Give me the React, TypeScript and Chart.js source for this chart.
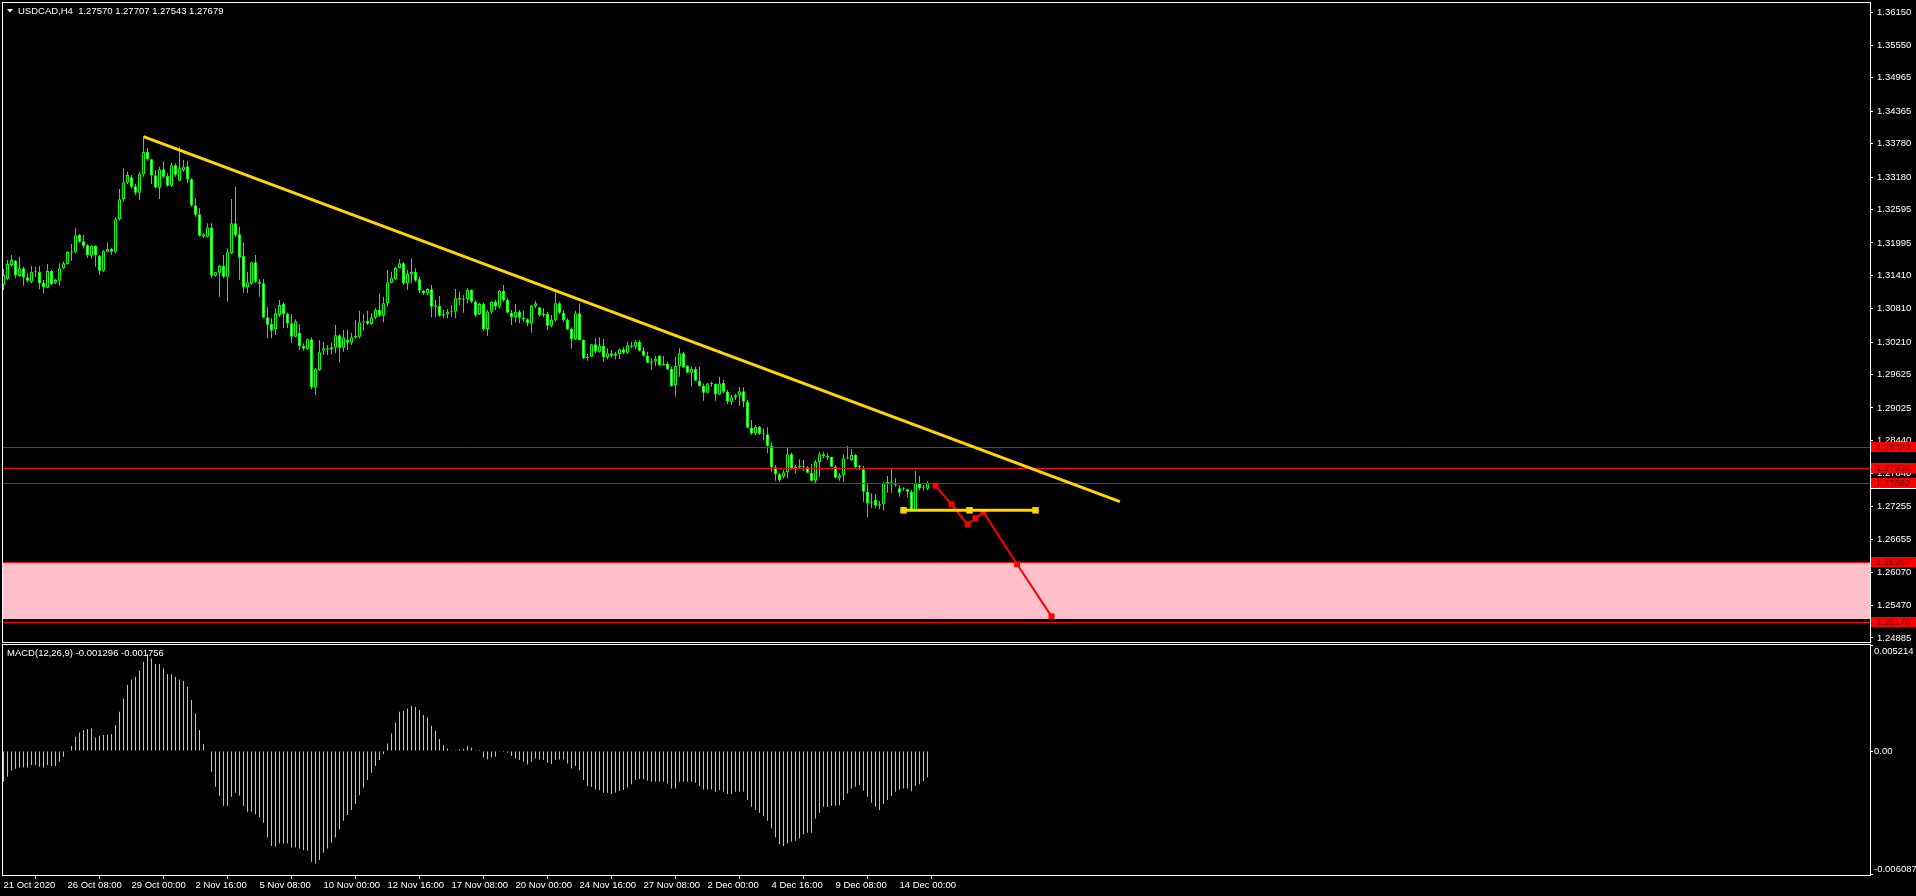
import React, { useEffect, useRef } from 'react';
import { Chart, registerables } from 'chart.js';

Chart.register(...registerables);

// ---------------- data ----------------
const SYMBOL_HEADER = 'USDCAD,H4  1.27570 1.27707 1.27543 1.27679';
const MACD_HEADER = 'MACD(12,26,9) -0.001296 -0.001756';

const OPEN = [
  1.31237,1.31351,1.31597,1.31675,1.31399,1.31537,1.31375,1.31297,1.31477,1.31471,
  1.31273,1.31189,1.31489,1.31279,1.31315,1.31537,1.31615,1.31831,1.31825,1.32137,
  1.32023,1.31951,1.31765,1.31939,1.31759,1.31495,1.31837,1.31885,1.31837,1.32419,
  1.32785,1.33079,1.33175,1.33013,1.32899,1.33229,1.33631,1.33499,1.33211,1.32989,
  1.33319,1.33199,1.33025,1.33391,1.33115,1.33307,1.33373,1.33139,1.32671,1.32509,
  1.32107,1.32107,1.32275,1.31405,1.31459,1.31579,1.31387,1.31807,1.32347,1.32149,
  1.31759,1.31195,1.31267,1.31645,1.31297,1.31267,1.30655,1.30535,1.30439,1.30697,
  1.30895,1.30715,1.30547,1.30307,1.30379,1.30139,1.30091,1.30259,1.29395,1.29707,
  1.30055,1.30097,1.30079,1.30109,1.30331,1.30109,1.30247,1.30199,1.30295,1.30307,
  1.30565,1.30589,1.30535,1.30649,1.30787,1.30685,1.30907,1.31279,1.31339,1.31543,
  1.31627,1.31267,1.31429,1.31477,1.31339,1.31135,1.31087,1.31159,1.30847,1.30859,
  1.30685,1.30709,1.30757,1.30757,1.30997,1.30985,1.30985,1.31147,1.30937,1.30715,
  1.30895,1.30445,1.30757,1.30937,1.30847,1.31129,1.30967,1.30739,1.30655,1.30757,
  1.30649,1.30619,1.30547,1.30859,1.30835,1.30697,1.30715,1.30505,1.30607,1.30907,
  1.30739,1.30607,1.30445,1.30265,1.30727,1.30247,1.29917,1.29947,1.30169,1.30037,
  1.30139,1.29935,1.30007,1.29965,1.29995,1.30079,1.30019,1.30151,1.30127,1.30211,
  1.30055,1.29965,1.29839,1.29863,1.29959,1.29797,1.29821,1.29725,1.29437,1.29779,
  1.30007,1.29779,1.29659,1.29725,1.29515,1.29419,1.29299,1.29467,1.29455,1.29269,
  1.29480,1.29318,1.29138,1.29216,1.29252,1.29324,1.29138,1.28670,1.28568,1.28682,
  1.28562,1.28550,1.28346,1.27956,1.27830,1.27788,1.27866,1.28190,1.27938,1.27962,
  1.27968,1.27956,1.27860,1.27716,1.28052,1.28190,1.28160,1.28142,1.27968,1.27770,
  1.27812,1.28118,1.28088,1.28178,1.27956,1.27920,1.27518,1.27308,1.27368,1.27266,
  1.27290,1.27668,1.27692,1.27680,1.27578,1.27560,1.27560,1.27518,1.27188,1.27668,
  1.27578,1.27570,
];
const HIGH = [
  1.31525,1.31687,1.31777,1.31687,1.31747,1.31567,1.31447,1.31579,1.31567,1.31579,
  1.31327,1.31615,1.31507,1.31351,1.31627,1.31663,1.31843,1.31975,1.32257,1.32155,
  1.32137,1.31975,1.31951,1.31951,1.31777,1.31867,1.32005,1.31903,1.32455,1.32965,
  1.33337,1.33277,1.33217,1.33055,1.33277,1.33907,1.33703,1.33511,1.33307,1.33367,
  1.33463,1.33247,1.33439,1.33427,1.33727,1.33487,1.33463,1.33157,1.32797,1.32617,
  1.32167,1.32347,1.32347,1.31477,1.31597,1.31777,1.31897,1.32785,1.33007,1.32287,
  1.31999,1.31477,1.31657,1.31777,1.31339,1.31345,1.30835,1.30637,1.30817,1.30967,
  1.30925,1.30739,1.30715,1.30619,1.30535,1.30187,1.30277,1.30297,1.29737,1.30247,
  1.30217,1.30157,1.30199,1.30517,1.30349,1.30427,1.30427,1.30379,1.30607,1.30775,
  1.30715,1.30775,1.30727,1.30817,1.31087,1.31027,1.31507,1.31477,1.31567,1.31699,
  1.31657,1.31507,1.31717,1.31537,1.31387,1.31147,1.31183,1.31237,1.30967,1.31039,
  1.30787,1.30811,1.30877,1.31165,1.31117,1.31057,1.31177,1.31159,1.30967,1.30919,
  1.30919,1.30787,1.30949,1.30967,1.31147,1.31237,1.30997,1.30787,1.30895,1.30787,
  1.30775,1.30637,1.30877,1.30955,1.30847,1.30817,1.30757,1.30697,1.31099,1.30937,
  1.30787,1.30637,1.30475,1.30775,1.30907,1.30259,1.29995,1.30175,1.30277,1.30295,
  1.30265,1.30097,1.30067,1.30037,1.30097,1.30115,1.30217,1.30217,1.30247,1.30247,
  1.30115,1.30037,1.29917,1.29959,1.29977,1.29959,1.29851,1.29767,1.29947,1.30097,
  1.30037,1.29797,1.29767,1.29767,1.29767,1.29467,1.29479,1.29497,1.29467,1.29587,
  1.29528,1.29348,1.29258,1.29276,1.29408,1.29396,1.29168,1.28808,1.28718,1.28700,
  1.28658,1.28676,1.28406,1.27998,1.27860,1.27908,1.28310,1.28220,1.27998,1.28100,
  1.28088,1.27980,1.28016,1.28088,1.28238,1.28238,1.28208,1.28148,1.27998,1.27848,
  1.28190,1.28340,1.28280,1.28196,1.27998,1.27980,1.27668,1.27488,1.27476,1.27356,
  1.27698,1.27800,1.27920,1.27758,1.27638,1.27596,1.27572,1.27548,1.27890,1.27806,
  1.27638,1.27707,
];
const LOW = [
  1.31147,1.31327,1.31567,1.31357,1.31387,1.31225,1.31285,1.31267,1.31387,1.31159,
  1.31087,1.31177,1.31231,1.31255,1.31225,1.31519,1.31603,1.31675,1.31807,1.31999,
  1.31897,1.31723,1.31711,1.31567,1.31417,1.31477,1.31825,1.31783,1.31807,1.32395,
  1.32737,1.33055,1.32977,1.32857,1.32767,1.33187,1.33475,1.33055,1.32977,1.32785,
  1.33157,1.33007,1.33007,1.33187,1.33105,1.33277,1.33067,1.32647,1.32467,1.32107,
  1.32089,1.32095,1.31357,1.31387,1.31027,1.31357,1.30937,1.31795,1.32107,1.31327,
  1.31099,1.31087,1.31237,1.31267,1.31027,1.30637,1.30277,1.30277,1.30337,1.30667,
  1.30457,1.30457,1.30187,1.30295,1.30067,1.30055,1.30067,1.29359,1.29257,1.29695,
  1.29977,1.29977,1.29989,1.30007,1.29839,1.30037,1.30067,1.30157,1.30271,1.30277,
  1.30415,1.30517,1.30523,1.30619,1.30667,1.30567,1.30847,1.31267,1.31327,1.31537,
  1.31237,1.31147,1.31267,1.31297,1.31087,1.31057,1.31057,1.30655,1.30655,1.30667,
  1.30637,1.30637,1.30667,1.30637,1.30877,1.30739,1.30907,1.30907,1.30667,1.30697,
  1.30415,1.30325,1.30715,1.30787,1.30817,1.30937,1.30727,1.30517,1.30559,1.30547,
  1.30577,1.30499,1.30379,1.30817,1.30667,1.30655,1.30427,1.30475,1.30577,1.30715,
  1.30577,1.30427,1.30091,1.30247,1.30235,1.29899,1.29875,1.29935,1.30007,1.30019,
  1.29857,1.29899,1.29935,1.29899,1.29905,1.29995,1.29995,1.30097,1.30079,1.30037,
  1.29947,1.29827,1.29707,1.29779,1.29779,1.29791,1.29707,1.29407,1.29227,1.29587,
  1.29737,1.29647,1.29407,1.29509,1.29407,1.29155,1.29287,1.29407,1.29155,1.29257,
  1.29288,1.29096,1.29078,1.29168,1.29060,1.29036,1.28658,1.28538,1.28538,1.28538,
  1.28448,1.28208,1.27878,1.27716,1.27698,1.27758,1.27758,1.27908,1.27848,1.27938,
  1.27896,1.27848,1.27698,1.27668,1.27788,1.28118,1.28088,1.27956,1.27758,1.27716,
  1.27698,1.28100,1.28076,1.27944,1.27908,1.27338,1.27056,1.27218,1.27218,1.27200,
  1.27176,1.27500,1.27500,1.27608,1.27428,1.27536,1.27416,1.27176,1.27176,1.27548,
  1.27536,1.27543,
];
const CLOSE = [
  1.31417,1.31615,1.31687,1.31411,1.31537,1.31375,1.31315,1.31477,1.31495,1.31267,
  1.31195,1.31489,1.31249,1.31327,1.31537,1.31627,1.31831,1.31819,1.32131,1.32017,
  1.31939,1.31771,1.31939,1.31771,1.31495,1.31843,1.31885,1.31837,1.32419,1.32779,
  1.33085,1.33217,1.33007,1.32899,1.33235,1.33631,1.33499,1.33211,1.32995,1.33319,
  1.33187,1.33025,1.33391,1.33223,1.33337,1.33367,1.33139,1.32671,1.32503,1.32125,
  1.32149,1.32275,1.31405,1.31465,1.31579,1.31387,1.31825,1.32347,1.32137,1.31735,
  1.31195,1.31285,1.31645,1.31297,1.31261,1.30655,1.30523,1.30415,1.30727,1.30877,
  1.30709,1.30547,1.30307,1.30583,1.30139,1.30091,1.30259,1.29395,1.29719,1.30025,
  1.30097,1.30073,1.30115,1.30331,1.30109,1.30295,1.30199,1.30295,1.30319,1.30565,
  1.30577,1.30541,1.30655,1.30787,1.30685,1.30907,1.31285,1.31357,1.31543,1.31627,
  1.31267,1.31435,1.31477,1.31315,1.31135,1.31087,1.31165,1.30847,1.30871,1.30685,
  1.30709,1.30757,1.30769,1.30997,1.30985,1.30973,1.31147,1.30937,1.30697,1.30895,
  1.30445,1.30757,1.30937,1.30847,1.31129,1.30967,1.30739,1.30655,1.30757,1.30649,
  1.30619,1.30547,1.30859,1.30907,1.30697,1.30715,1.30505,1.30607,1.30907,1.30739,
  1.30607,1.30445,1.30265,1.30727,1.30247,1.29917,1.29947,1.30169,1.30037,1.30139,
  1.29935,1.30007,1.29965,1.29995,1.30079,1.30019,1.30151,1.30127,1.30211,1.30055,
  1.29965,1.29839,1.29863,1.29911,1.29797,1.29821,1.29725,1.29419,1.29779,1.30007,
  1.29755,1.29659,1.29725,1.29515,1.29419,1.29299,1.29467,1.29455,1.29269,1.29467,
  1.29318,1.29138,1.29216,1.29252,1.29324,1.29138,1.28670,1.28568,1.28682,1.28562,
  1.28550,1.28346,1.27956,1.27830,1.27728,1.27866,1.28190,1.27938,1.27962,1.27968,
  1.27956,1.27860,1.27716,1.28052,1.28190,1.28160,1.28136,1.27968,1.27770,1.27812,
  1.28118,1.28136,1.28178,1.27956,1.27974,1.27518,1.27308,1.27326,1.27266,1.27290,
  1.27668,1.27692,1.27680,1.27644,1.27500,1.27572,1.27518,1.27188,1.27668,1.27578,
  1.27596,1.27679,
];
const MACD = [
  -0.001507,-0.001261,-0.000966,-0.000868,-0.000803,-0.000803,-0.000803,-0.000688,-0.000688,-0.000770,
  -0.000803,-0.000688,-0.000737,-0.000737,-0.000524,-0.000278,-0.000033,0.000246,0.000704,0.000917,
  0.001032,0.001081,0.001114,0.000672,0.000753,0.000786,0.000819,0.000835,0.001278,0.001933,
  0.002588,0.003243,0.003522,0.003653,0.003948,0.004390,0.004767,0.004554,0.004275,0.004275,
  0.004062,0.003784,0.003784,0.003653,0.003522,0.003440,0.003161,0.002506,0.001851,0.001032,
  0.000344,-0.000016,-0.001016,-0.001753,-0.002195,-0.002686,-0.002686,-0.002244,-0.002048,-0.002195,
  -0.002686,-0.002981,-0.002981,-0.003096,-0.003260,-0.003522,-0.004242,-0.004668,-0.004701,-0.004537,
  -0.004537,-0.004537,-0.004734,-0.004734,-0.004783,-0.004865,-0.004898,-0.005438,-0.005520,-0.005356,
  -0.004996,-0.004783,-0.004505,-0.004242,-0.003833,-0.003423,-0.003145,-0.002899,-0.002604,-0.002162,
  -0.001785,-0.001425,-0.001065,-0.000737,-0.000442,-0.000147,0.000377,0.000868,0.001409,0.001933,
  0.001966,0.002097,0.002211,0.002179,0.002015,0.001769,0.001654,0.001245,0.000999,0.000590,
  0.000295,0.000131,0.000016,0.000016,0.000082,0.000098,0.000246,0.000180,0.000016,0.000005,
  -0.000311,-0.000410,-0.000311,-0.000278,-0.000033,-0.000049,-0.000082,-0.000246,-0.000360,-0.000442,
  -0.000524,-0.000655,-0.000524,-0.000360,-0.000410,-0.000442,-0.000573,-0.000639,-0.000442,-0.000410,
  -0.000410,-0.000606,-0.000852,-0.000737,-0.000934,-0.001425,-0.001720,-0.001753,-0.001884,-0.001916,
  -0.002048,-0.002048,-0.002113,-0.002031,-0.001949,-0.001916,-0.001785,-0.001622,-0.001425,-0.001376,
  -0.001376,-0.001458,-0.001507,-0.001507,-0.001507,-0.001507,-0.001589,-0.001835,-0.001835,-0.001507,
  -0.001507,-0.001507,-0.001507,-0.001556,-0.001720,-0.001884,-0.001884,-0.001884,-0.001998,-0.001916,
  -0.001998,-0.002113,-0.002113,-0.001998,-0.001998,-0.001998,-0.002408,-0.002735,-0.002899,-0.003030,
  -0.003194,-0.003423,-0.003800,-0.004242,-0.004570,-0.004668,-0.004537,-0.004455,-0.004406,-0.004292,
  -0.004079,-0.004013,-0.004013,-0.003309,-0.003030,-0.002735,-0.002735,-0.002686,-0.002686,-0.002654,
  -0.002408,-0.002080,-0.001835,-0.001753,-0.001671,-0.001949,-0.002244,-0.002539,-0.002735,-0.002899,
  -0.002604,-0.002408,-0.002211,-0.001998,-0.001884,-0.001835,-0.001835,-0.001966,-0.001720,-0.001622,
  -0.001474,-0.001296,
];

const PRICE_TICKS = [
  1.36150, 1.35550, 1.34965, 1.34365, 1.33780, 1.33180, 1.32595, 1.31995, 1.31410, 1.30810,
  1.30210, 1.29625, 1.29025, 1.28440, 1.27840, 1.27255, 1.26655, 1.26070, 1.25470, 1.24885,
];
const TIME_TICK_BARS = [0, 16, 32, 48, 64, 80, 96, 112, 128, 144, 160, 176, 192, 208, 224];
const TIME_TICK_LABELS = [
  '21 Oct 2020', '26 Oct 08:00', '29 Oct 00:00', '2 Nov 16:00', '5 Nov 08:00', '10 Nov 00:00',
  '12 Nov 16:00', '17 Nov 08:00', '20 Nov 00:00', '24 Nov 16:00', '27 Nov 08:00', '2 Dec 00:00',
  '4 Dec 16:00', '9 Dec 08:00', '14 Dec 00:00',
];

const LEVELS = [1.28323, 1.27936, 1.27682, 1.26257, 1.25178];
const BID_LEVEL = 1.27682;
const ZONE = [1.26257, 1.25225];

const TREND_X = [35, 279.1];
const TREND_Y = [1.33906, 1.27338];
const FLAT_X = [225, 241.5, 258];
const FLAT_Y = [1.27183, 1.27183, 1.27183];
const PATH_X = [233, 237, 241, 243, 245, 253.4, 262];
const PATH_Y = [1.27626, 1.27291, 1.26931, 1.27039, 1.27147, 1.26211, 1.25275];

const X_MIN = -0.125;
const X_MAX = 466.625;
const Y_MIN = 1.24813;
const Y_MAX = 1.36312;
const MACD_MIN = -0.006087;
const MACD_MAX = 0.005214;

// ---------------- styles ----------------
const W = 1916;
const MAIN_H = 643;
const SUB_H = 253;
const AXIS_W = 46;
const FONT_FAMILY = '"Liberation Sans", Arial, sans-serif';
const FONT_SIZE = 9.5;
const FONT = `${FONT_SIZE}px ${FONT_FAMILY}`;
const LIME = '#00ff00';
const GOLD = '#ffd700';
const RED = '#ff0000';
const PINK = '#ffc0cb';
const SILVER = '#c0c0c0';
const WHITE = '#ffffff';

const blackBackground = {
  id: 'blackBackground',
  beforeDraw(chart: any) {
    const { ctx, width, height } = chart;
    ctx.save();
    ctx.fillStyle = '#000';
    ctx.fillRect(0, 0, width, height);
    ctx.restore();
  },
};

function frame(chart: any) {
  const { ctx, chartArea: a } = chart;
  ctx.save();
  ctx.strokeStyle = WHITE;
  ctx.lineWidth = 1;
  ctx.strokeRect(a.left - 0.5, a.top - 0.5, a.right - a.left + 1, a.bottom - a.top + 1);
  ctx.restore();
}

const mainPlugin = {
  id: 'mt4main',
  beforeDatasetsDraw(chart: any) {
    const { ctx, chartArea: a, scales } = chart;
    const y = scales.y;
    const top = Math.round(y.getPixelForValue(ZONE[0]));
    const bot = Math.round(y.getPixelForValue(ZONE[1]));
    ctx.save();
    ctx.fillStyle = PINK;
    ctx.fillRect(a.left, top, a.right - a.left, bot - top);
    ctx.restore();
  },
  afterDatasetDraw(chart: any, args: any) {
    if (chart.data.datasets[args.index].label !== 'bodies') return;
    const { ctx, chartArea: a, scales } = chart;
    ctx.save();
    ctx.strokeStyle = RED;
    ctx.lineWidth = 1;
    for (const v of LEVELS) {
      const py = Math.round(scales.y.getPixelForValue(v)) + 0.5;
      ctx.beginPath();
      ctx.moveTo(a.left, py);
      ctx.lineTo(a.right, py);
      ctx.stroke();
    }
    ctx.restore();
  },
  afterDraw(chart: any) {
    const { ctx, chartArea: a, scales, width } = chart;
    frame(chart);
    ctx.save();
    // header
    ctx.fillStyle = WHITE;
    ctx.beginPath();
    ctx.moveTo(7, 9);
    ctx.lineTo(13, 9);
    ctx.lineTo(10, 12.5);
    ctx.closePath();
    ctx.fill();
    ctx.font = FONT;
    ctx.textBaseline = 'middle';
    ctx.textAlign = 'left';
    ctx.fillText(SYMBOL_HEADER, 18, 11);
    // price labels of the levels
    for (const v of LEVELS) {
      const py = Math.round(scales.y.getPixelForValue(v));
      ctx.fillStyle = RED;
      ctx.fillRect(a.right + 1, py - 5, width - a.right - 1, 10);
      if (v === BID_LEVEL) {
        ctx.fillStyle = WHITE;
        ctx.fillRect(a.right + 1, py + 5, width - a.right - 1, 1);
      }
      ctx.fillStyle = '#5a0000';
      ctx.fillText(v.toFixed(5), a.right + 6, py);
    }
    ctx.restore();
  },
};

const subPlugin = {
  id: 'mt4sub',
  afterDraw(chart: any) {
    const { ctx, chartArea: a } = chart;
    frame(chart);
    ctx.save();
    ctx.font = FONT;
    ctx.textBaseline = 'middle';
    ctx.textAlign = 'left';
    ctx.fillStyle = WHITE;
    ctx.fillText(MACD_HEADER, 7, a.top + 8);
    ctx.fillText(MACD_MAX.toFixed(6), a.right + 4, a.top + 6);
    ctx.fillText(MACD_MIN.toFixed(6), a.right + 4, a.bottom - 6);
    ctx.fillRect(a.right, a.top, 3, 1);
    ctx.fillRect(a.right, a.bottom - 1, 3, 1);
    ctx.restore();
  },
};

function fitVertical(s: any) {
  s.width = AXIS_W;
  s.paddingTop = 0;
  s.paddingBottom = 0;
  s.paddingLeft = 0;
  s.paddingRight = 0;
}

function mainConfig(): any {
  return {
    type: 'bar',
    data: {
      datasets: [
        {
          type: 'line',
          label: 'trend',
          data: TREND_X.map((x, i) => ({ x, y: TREND_Y[i] })),
          borderColor: GOLD,
          borderWidth: 3,
          pointRadius: 0,
          tension: 0,
          order: 0,
        },
        {
          type: 'line',
          label: 'flat',
          data: FLAT_X.map((x, i) => ({ x, y: FLAT_Y[i] })),
          borderColor: GOLD,
          borderWidth: 3,
          pointStyle: 'rect',
          pointRadius: 4.6,
          pointBackgroundColor: GOLD,
          pointBorderWidth: 0,
          tension: 0,
          order: 0,
        },
        {
          type: 'line',
          label: 'path',
          data: PATH_X.map((x, i) => ({ x, y: PATH_Y[i] })),
          borderColor: RED,
          borderWidth: 2,
          pointStyle: 'rect',
          pointRadius: 4.2,
          pointBackgroundColor: RED,
          pointBorderWidth: 0,
          tension: 0,
          order: 0,
        },
        {
          type: 'bar',
          label: 'bodies',
          data: OPEN.map((o, i) => ({ x: i, y: [o, CLOSE[i]] })),
          backgroundColor: (c: any) =>
            CLOSE[c.dataIndex] >= OPEN[c.dataIndex] ? '#000000' : '#ffffff',
          borderColor: LIME,
          borderWidth: 1,
          borderSkipped: false,
          barThickness: 3,
          minBarLength: 1,
          grouped: false,
          inflateAmount: 0,
          order: 2,
        },
        {
          type: 'bar',
          label: 'wicks',
          data: LOW.map((l, i) => ({ x: i, y: [l, HIGH[i]] })),
          backgroundColor: LIME,
          borderWidth: 0,
          barThickness: 1,
          minBarLength: 1,
          grouped: false,
          inflateAmount: 0,
          order: 3,
        },
      ],
    },
    options: {
      animation: false,
      responsive: false,
      maintainAspectRatio: false,
      devicePixelRatio: 1,
      events: [],
      layout: { autoPadding: false, padding: { left: 3, top: 3, right: 0, bottom: 1 } },
      plugins: { legend: { display: false }, tooltip: { enabled: false } },
      scales: {
        x: { type: 'linear', min: X_MIN, max: X_MAX, display: false, offset: false },
        y: {
          type: 'linear',
          position: 'right',
          min: Y_MIN,
          max: Y_MAX,
          afterFit: fitVertical,
          afterBuildTicks: (s: any) => { s.ticks = PRICE_TICKS.map((v) => ({ value: v })); },
          ticks: {
            color: WHITE,
            font: { family: FONT_FAMILY, size: FONT_SIZE },
            padding: 4,
            crossAlign: 'near',
            autoSkip: false,
            callback: (v: any) => Number(v).toFixed(5),
          },
          grid: { drawOnChartArea: false, drawTicks: true, tickLength: 3, color: WHITE },
          border: { display: true, color: WHITE },
        },
      },
    },
    plugins: [blackBackground, mainPlugin],
  };
}

function subConfig(): any {
  return {
    type: 'bar',
    data: {
      datasets: [
        {
          label: 'macd',
          data: MACD.map((v, i) => ({ x: i, y: v })),
          backgroundColor: SILVER,
          borderWidth: 0,
          barThickness: 1,
          grouped: false,
          inflateAmount: 0,
        },
      ],
    },
    options: {
      animation: false,
      responsive: false,
      maintainAspectRatio: false,
      devicePixelRatio: 1,
      events: [],
      layout: { autoPadding: false, padding: { left: 3, top: 2, right: 0, bottom: 0 } },
      plugins: { legend: { display: false }, tooltip: { enabled: false } },
      scales: {
        x: {
          type: 'linear',
          min: X_MIN,
          max: X_MAX,
          offset: false,
          afterBuildTicks: (s: any) => { s.ticks = TIME_TICK_BARS.map((v) => ({ value: v })); },
          afterFit: (s: any) => {
            s.height = 21;
            s.paddingLeft = 0;
            s.paddingRight = 0;
            s.paddingTop = 0;
            s.paddingBottom = 0;
          },
          ticks: {
            color: WHITE,
            font: { family: FONT_FAMILY, size: FONT_SIZE },
            padding: 1,
            align: 'start',
            maxRotation: 0,
            minRotation: 0,
            autoSkip: false,
            callback: (v: any) => {
              const k = TIME_TICK_BARS.indexOf(Number(v));
              return k >= 0 ? TIME_TICK_LABELS[k] : '';
            },
          },
          grid: { drawOnChartArea: false, drawTicks: true, tickLength: 4, color: WHITE },
          border: { display: true, color: WHITE },
        },
        y: {
          type: 'linear',
          position: 'right',
          min: MACD_MIN,
          max: MACD_MAX,
          afterFit: fitVertical,
          afterBuildTicks: (s: any) => { s.ticks = [{ value: 0 }]; },
          ticks: {
            color: WHITE,
            font: { family: FONT_FAMILY, size: FONT_SIZE },
            padding: 1,
            crossAlign: 'near',
            autoSkip: false,
            callback: () => '0.00',
          },
          grid: { drawOnChartArea: false, drawTicks: true, tickLength: 3, color: WHITE },
          border: { display: true, color: WHITE },
        },
      },
    },
    plugins: [blackBackground, subPlugin],
  };
}

export default function App() {
  const mainRef = useRef<HTMLCanvasElement>(null);
  const subRef = useRef<HTMLCanvasElement>(null);

  useEffect(() => {
    const main = new Chart(mainRef.current as HTMLCanvasElement, mainConfig());
    const sub = new Chart(subRef.current as HTMLCanvasElement, subConfig());
    return () => {
      main.destroy();
      sub.destroy();
    };
  }, []);

  return (
    <div style={{ position: 'fixed', left: 0, top: 0, width: W, height: 896, background: '#000' }}>
      <canvas
        ref={mainRef}
        width={W}
        height={MAIN_H}
        style={{ position: 'absolute', left: 0, top: 0, width: W, height: MAIN_H }}
      />
      <canvas
        ref={subRef}
        width={W}
        height={SUB_H}
        style={{ position: 'absolute', left: 0, top: MAIN_H, width: W, height: SUB_H }}
      />
    </div>
  );
}
